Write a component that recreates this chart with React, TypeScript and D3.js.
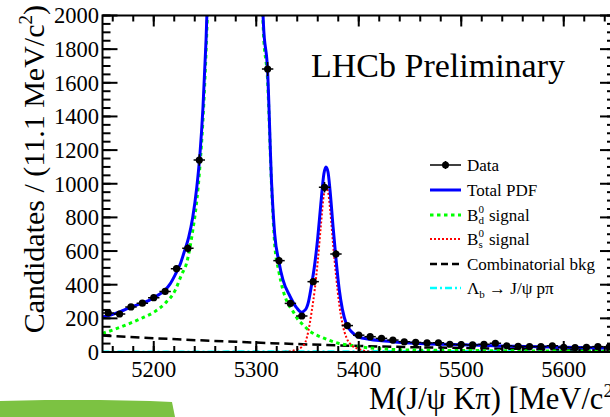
import React from 'react';
import * as d3 from 'd3';

// ---------- data ----------
const massLo = 5150;
const massHi = 5650;
const binWidth = 11.11;
// candidates per 11.1 MeV bin (bins 9-13 are above the plotted range)
const counts = [232, 226, 268, 290, 323, 360, 495, 616, 1141, 2600, 5500, 8000, 6500, 3100, 1682, 543, 289, 214, 418, 979, 582, 157, 100, 91, 81, 71, 61, 57, 54, 55, 46, 44, 42, 46, 52, 37, 33, 32, 32, 37, 28, 26, 28, 32, 30];

const xTicks = [5200, 5300, 5400, 5500, 5600];
const yTicks = [0, 200, 400, 600, 800, 1000, 1200, 1400, 1600, 1800, 2000];

// Total PDF
const totalM = [5150, 5156, 5162, 5168, 5175, 5182, 5188, 5195, 5201, 5206, 5211, 5216, 5221, 5226, 5230, 5234, 5238, 5242, 5245, 5248, 5251, 5254, 5258, 5265, 5275, 5285, 5295, 5300, 5304, 5307, 5311, 5315, 5318, 5322, 5326, 5333, 5339.5, 5344, 5348, 5351, 5354, 5357, 5360, 5363, 5366, 5368, 5370, 5372, 5375, 5378, 5381, 5384, 5388, 5393, 5400, 5410, 5420, 5435, 5455, 5480, 5510, 5550, 5600, 5650];
const totalV = [208, 216, 228, 242, 260, 276, 289, 305, 327, 345, 368, 405, 460, 525, 600, 680, 800, 980, 1170, 1450, 1850, 2400, 3400, 6000, 9000, 9000, 5500, 3800, 2500, 1950, 1680, 1000, 700, 540, 430, 330, 262, 237, 252, 300, 400, 520, 680, 880, 1060, 1100, 1070, 960, 740, 540, 370, 255, 165, 120, 88, 76, 68, 60, 52, 46, 41, 34, 28, 23];

// B0d signal
const bdM = [5150, 5162, 5175, 5188, 5201, 5211, 5221, 5227, 5232, 5238, 5242, 5245, 5248, 5251, 5254, 5258, 5265, 5275, 5285, 5295, 5300, 5304, 5307, 5311, 5315, 5318, 5322, 5326, 5330, 5336, 5341, 5346, 5352, 5359, 5366, 5372, 5380, 5392, 5400, 5415, 5430, 5450, 5500, 5550, 5600, 5650];
const bdV = [111, 135, 166, 200, 240, 289, 368, 458, 527, 720, 900, 1100, 1380, 1780, 2330, 3330, 5900, 8900, 8900, 5450, 3750, 2450, 1900, 1620, 980, 640, 480, 370, 300, 240, 190, 160, 125, 100, 82, 68, 52, 40, 32, 22, 16, 12, 9, 7, 6, 5];

// B0s signal
const bsM = [5320, 5330, 5335, 5340, 5344, 5348, 5351, 5354, 5357, 5360, 5363, 5366, 5368, 5370, 5372, 5375, 5378, 5381, 5384, 5388, 5393, 5400, 5405, 5412, 5420];
const bsV = [0, 2, 6, 16, 28, 59, 129, 238, 368, 539, 749, 937, 982, 955, 852, 639, 445, 282, 171, 85, 40, 18, 8, 2, 0];

// Combinatorial background
const bkgM = [5150, 5200, 5250, 5300, 5350, 5400, 5450, 5500, 5550, 5600, 5650];
const bkgV = [98, 82, 68, 56, 45, 36, 29, 24, 19, 15, 12];

// Lambda_b -> J/psi p pi
const lbM = [5150, 5250, 5350, 5450, 5550, 5650];
const lbV = [1, 2, 3, 4, 4, 3];

// ---------- chart ----------
const FONT = '"Liberation Serif", "Times New Roman", Times, serif';

export default function App() {
  const W = 610;
  const H = 417;
  const L = 102.5, R = 615, T = 15.5, B = 352;
  const x = d3.scaleLinear().domain([massLo, massHi]).range([L, R]);
  const y = d3.scaleLinear().domain([0, 2000]).range([B, T]);

  const mk = (ms: number[], vs: number[]) =>
    d3.line<number>()
      .x((_, i) => x(ms[i]))
      .y((_, i) => y(vs[i]))
      .curve(d3.curveMonotoneX)(vs) || '';

  const xMinor = d3.range(massLo + 10, massHi, 20);
  const yMinor = d3.range(0, 2001, 50);

  const pts = counts.map((c, i) => ({ m: massLo + binWidth * (i + 0.5), c, e: Math.sqrt(c) }))
    .filter(p => p.c < 2000);

  const legX0 = 430, legX1 = 461, legT = 467;
  const rows = [165, 190, 215, 239, 264, 288];

  return (
    <svg width={W} height={H} style={{ position: 'absolute', left: 0, top: 0, background: '#fff' }}
      fontFamily={FONT}>
      <rect x={0} y={0} width={W} height={H} fill="#fff" />
      <defs>
        <clipPath id="frame">
          <rect x={L} y={T} width={R - L} height={B - T} />
        </clipPath>
      </defs>

      {/* green highlighter stroke */}
      <path d="M0,401 L45,400 L100,400 L150,401 L172,402 L175,417 L0,417 Z" fill="#7cc242" />

      {/* curves */}
      <g clipPath="url(#frame)" fill="none">
        <path d={mk(lbM, lbV)} stroke="#00ffff" strokeWidth={2.5} strokeDasharray="7 3 2 3" />
        <path d={mk(bkgM, bkgV)} stroke="#000" strokeWidth={2.5} strokeDasharray="9 5" />
        <path d={mk(bdM, bdV)} stroke="#00ff00" strokeWidth={3} strokeDasharray="3.5 3.5" />
        <path d={mk(bsM, bsV)} stroke="#ff0000" strokeWidth={2} strokeDasharray="2 2" />
        <path d={mk(totalM, totalV)} stroke="#0000ff" strokeWidth={3} />
      </g>

      {/* data */}
      <g clipPath="url(#frame)">
        {pts.map((p, i) => (
          <g key={i} stroke="#000" strokeWidth={1.5}>
            <line x1={x(p.m - binWidth / 2)} x2={x(p.m + binWidth / 2)} y1={y(p.c)} y2={y(p.c)} />
            <line x1={x(p.m)} x2={x(p.m)} y1={y(p.c - p.e)} y2={y(p.c + p.e)} />
            <circle cx={x(p.m)} cy={y(p.c)} r={3.6} fill="#000" stroke="none" />
          </g>
        ))}
      </g>

      {/* frame */}
      <g stroke="#000" strokeWidth={2} fill="none">
        <rect x={L} y={T} width={R - L} height={B - T} />
        {xMinor.map(v => (
          <g key={'xm' + v}>
            <line x1={x(v)} x2={x(v)} y1={B} y2={B - 6} />
            <line x1={x(v)} x2={x(v)} y1={T} y2={T + 6} />
          </g>
        ))}
        {xTicks.map(v => (
          <g key={'xM' + v}>
            <line x1={x(v)} x2={x(v)} y1={B} y2={B - 11} />
            <line x1={x(v)} x2={x(v)} y1={T} y2={T + 11} />
          </g>
        ))}
        {yMinor.map(v => (
          <g key={'ym' + v}>
            <line x1={L} x2={L + 8} y1={y(v)} y2={y(v)} />
            <line x1={R} x2={R - 8} y1={y(v)} y2={y(v)} />
          </g>
        ))}
        {yTicks.map(v => (
          <g key={'yM' + v}>
            <line x1={L} x2={L + 15} y1={y(v)} y2={y(v)} />
            <line x1={R} x2={R - 15} y1={y(v)} y2={y(v)} />
          </g>
        ))}
      </g>

      {/* tick labels */}
      <g fontSize={22.5} fill="#000">
        {yTicks.map(v => (
          <text key={'yl' + v} x={99} y={y(v)} dy="0.35em" textAnchor="end">{v}</text>
        ))}
        {xTicks.map(v => (
          <text key={'xl' + v} x={x(v)} y={376.5} textAnchor="middle">{v}</text>
        ))}
      </g>

      {/* axis titles */}
      <text x={369} y={408.5} fontSize={30.5} fill="#000">
        M(J/ψ Kπ) [MeV/c<tspan dy={-12} fontSize={19}>2</tspan><tspan dy={12}>]</tspan>
      </text>
      <text transform="translate(44,5) rotate(-90)" textAnchor="end" fontSize={30} fill="#000">
        Candidates / (11.1 MeV/c<tspan dy={-12} fontSize={19}>2</tspan><tspan dy={12}>)</tspan>
      </text>

      <text x={311} y={77} fontSize={34} fill="#000">LHCb Preliminary</text>

      {/* legend */}
      <g fontSize={17} fill="#000">
        <line x1={legX0} x2={legX1} y1={rows[0]} y2={rows[0]} stroke="#000" strokeWidth={1.5} />
        <line x1={(legX0 + legX1) / 2} x2={(legX0 + legX1) / 2} y1={rows[0] - 4} y2={rows[0] + 4} stroke="#000" strokeWidth={1.5} />
        <circle cx={(legX0 + legX1) / 2} cy={rows[0]} r={3.5} fill="#000" />
        <text x={legT} y={rows[0] + 6}>Data</text>

        <line x1={legX0} x2={legX1} y1={rows[1]} y2={rows[1]} stroke="#0000ff" strokeWidth={3} />
        <text x={legT} y={rows[1] + 6}>Total PDF</text>

        <line x1={legX0} x2={legX1} y1={rows[2]} y2={rows[2]} stroke="#00ff00" strokeWidth={3} strokeDasharray="3.5 3.5" />
        <text x={legT} y={rows[2] + 6}>B</text>
        <text x={legT + 11.5} y={rows[2] - 2} fontSize={11}>0</text>
        <text x={legT + 11.5} y={rows[2] + 9} fontSize={11}>d</text>
        <text x={legT + 22} y={rows[2] + 6}>signal</text>

        <line x1={legX0} x2={legX1} y1={rows[3]} y2={rows[3]} stroke="#ff0000" strokeWidth={2} strokeDasharray="2 2" />
        <text x={legT} y={rows[3] + 6}>B</text>
        <text x={legT + 11.5} y={rows[3] - 2} fontSize={11}>0</text>
        <text x={legT + 11.5} y={rows[3] + 9} fontSize={11}>s</text>
        <text x={legT + 22} y={rows[3] + 6}>signal</text>

        <line x1={legX0} x2={legX1} y1={rows[4]} y2={rows[4]} stroke="#000" strokeWidth={2.5} strokeDasharray="7 4" />
        <text x={legT} y={rows[4] + 6}>Combinatorial bkg</text>

        <line x1={legX0} x2={legX1} y1={rows[5]} y2={rows[5]} stroke="#00ffff" strokeWidth={2.5} strokeDasharray="7 3 2 3" />
        <text x={legT} y={rows[5] + 6}>Λ<tspan dy={4} fontSize={11}>b</tspan><tspan dy={-4}> → J/ψ pπ</tspan></text>
      </g>
    </svg>
  );
}
